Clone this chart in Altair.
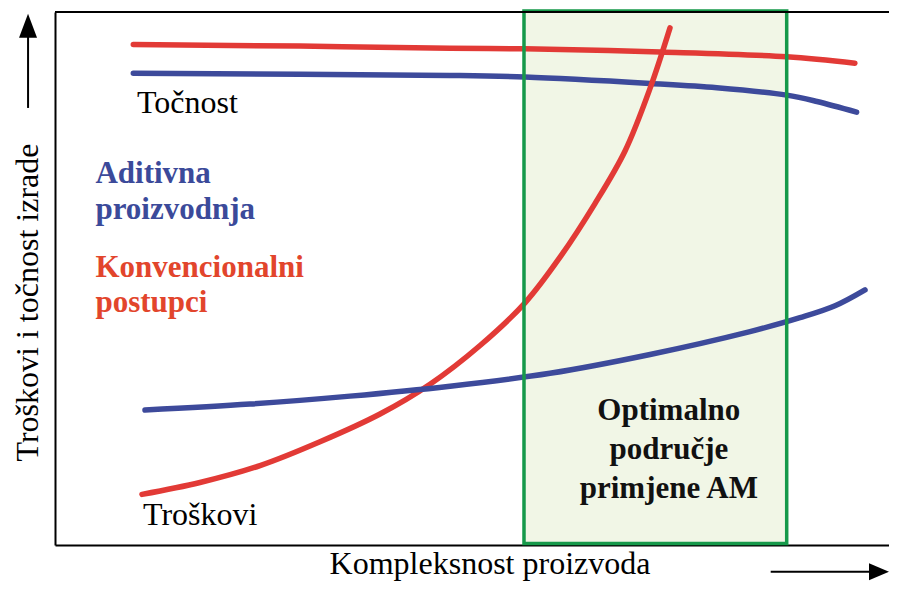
import altair as alt
import pandas as pd

# ---- data (x: product complexity, y: cost / accuracy, both 0-100) ----
am_acc_x = [9.3, 46.9, 55.8, 70.7, 78.6, 86.9, 90.5, 95.2]
am_acc_y = [88.5, 88.1, 87.8, 86.6, 85.8, 84.4, 83.2, 81.2]
conv_acc_x = [9.3, 29.1, 46.9, 55.8, 71.9, 86.9, 95.0]
conv_acc_y = [93.9, 93.6, 93.2, 93.1, 92.5, 91.6, 90.4]
conv_cost_x = [10.33, 17.22, 24.35, 31.47, 38.60, 44.54, 50.48, 55.82, 59.98, 64.13, 67.70, 70.67, 73.04]
conv_cost_y = [9.50, 11.73, 14.90, 19.37, 24.58, 30.17, 37.43, 45.44, 54.00, 64.06, 73.93, 85.66, 97.02]
am_cost_x = [10.69, 23.16, 35.04, 46.91, 58.79, 70.67, 82.54, 88.48, 92.64, 96.20]
am_cost_y = [25.33, 26.44, 27.93, 29.80, 32.22, 35.75, 40.04, 42.64, 44.88, 47.86]

series_names = ["am_acc", "conv_acc", "conv_cost", "am_cost"]
series_colors = ["#3d4a9b", "#e23a36", "#e23a36", "#3d4a9b"]

region_x = [55.7, 86.9]
region_y = [0.3, 100.2]

labels_normal = ["Točnost", "Troškovi"]
labels_normal_x = [9.74, 10.45]
labels_normal_y = [81.0, 3.7]

labels_side = ["Aditivna", "proizvodnja", "Konvencionalni", "postupci"]
labels_side_x = [4.8, 4.8, 4.8, 4.8]
labels_side_y = [68.0, 61.1, 50.3, 43.8]
labels_side_color = ["#3b4a9a", "#3b4a9a", "#e2452c", "#e2452c"]

labels_region = ["Optimalno", "područje", "primjene AM"]
labels_region_x = [72.9, 72.9, 72.9]
labels_region_y = [23.5, 16.2, 8.9]

x_title = "Kompleksnost proizvoda"
y_title = "Troškovi i točnost izrade"

FONT = "Liberation Serif, Times New Roman, serif"
FS = 32
FSB = 31

# ---- tables ----
rows = []
for name, xs_, ys_ in [("am_acc", am_acc_x, am_acc_y), ("conv_acc", conv_acc_x, conv_acc_y),
                       ("conv_cost", conv_cost_x, conv_cost_y), ("am_cost", am_cost_x, am_cost_y)]:
    for i, (a, b) in enumerate(zip(xs_, ys_)):
        rows.append({"series": name, "x": a, "y": b, "i": i})
curves = pd.DataFrame(rows)

region = pd.DataFrame({"x": [region_x[0]], "x2": [region_x[1]], "y": [region_y[0]], "y2": [region_y[1]]})
normal = pd.DataFrame({"x": labels_normal_x, "y": labels_normal_y, "t": labels_normal})
side = pd.DataFrame({"x": labels_side_x, "y": labels_side_y, "t": labels_side, "c": labels_side_color})
reg_txt = pd.DataFrame({"x": labels_region_x, "y": labels_region_y, "t": labels_region})
top = pd.DataFrame({"y": [100]})
y_arrow = pd.DataFrame({"x": [-3.2], "y": [82.0], "y2": [97.0], "yh": [97.4]})
x_arrow = pd.DataFrame({"x": [85.0], "x2": [96.8], "y": [-5.0], "xh": [97.86]})

xs = alt.Scale(domain=[0, 99.05], nice=False, zero=False)
ys = alt.Scale(domain=[0, 100], nice=False, zero=False)

x_axis = alt.Axis(title=x_title, labels=False, ticks=False, grid=False, domainColor="black",
                  domainWidth=2, titleFont=FONT, titleFontSize=FS, titleFontWeight="normal",
                  titleColor="black", titleX=434.5, titleY=28, titleBaseline="alphabetic",
                  titleAlign="center")
y_axis = alt.Axis(title=y_title, labels=False, ticks=False, grid=False, domainColor="black",
                  domainWidth=2, titleFont=FONT, titleFontSize=FS, titleFontWeight="normal",
                  titleColor="black", titleX=-18, titleY=290, titleAngle=270,
                  titleBaseline="alphabetic", titleAlign="center")


def X(f):
    return alt.X(f, scale=xs, axis=x_axis)


def Y(f):
    return alt.Y(f, scale=ys, axis=y_axis)


fill = alt.Chart(region).mark_rect(fill="#f1f6e6", strokeWidth=0).encode(
    x=X("x:Q"), x2="x2:Q", y=Y("y:Q"), y2="y2:Q")

lines = alt.Chart(curves).mark_line(strokeWidth=5.5, strokeCap="round", interpolate="catmull-rom").encode(
    x=X("x:Q"), y=Y("y:Q"),
    color=alt.Color("series:N", scale=alt.Scale(domain=series_names, range=series_colors), legend=None),
    order="i:Q")

border = alt.Chart(region).mark_rect(fillOpacity=0, stroke="#16994a", strokeWidth=3.5).encode(
    x=X("x:Q"), x2="x2:Q", y=Y("y:Q"), y2="y2:Q")

top_line = alt.Chart(top).mark_rule(color="black", strokeWidth=2).encode(y=Y("y:Q"))

t_normal = alt.Chart(normal).mark_text(font=FONT, fontSize=FS, align="left", baseline="alphabetic",
                                       color="black").encode(x=X("x:Q"), y=Y("y:Q"), text="t:N")

t_side = alt.Chart(side).mark_text(font=FONT, fontSize=FSB, fontWeight="bold", align="left",
                                   baseline="alphabetic").encode(
    x=X("x:Q"), y=Y("y:Q"), text="t:N", color=alt.Color("c:N", scale=None))

t_region = alt.Chart(reg_txt).mark_text(font=FONT, fontSize=FSB, fontWeight="bold", align="center",
                                        baseline="alphabetic", color="#111111").encode(
    x=X("x:Q"), y=Y("y:Q"), text="t:N")

ya_shaft = alt.Chart(y_arrow).mark_rule(color="black", strokeWidth=2).encode(
    x=X("x:Q"), y=Y("y:Q"), y2="y2:Q")
ya_head = alt.Chart(y_arrow).mark_point(shape="M0,-1L0.75,1L-0.75,1Z", size=576, filled=True,
                                        color="black", opacity=1).encode(x=X("x:Q"), y=Y("yh:Q"))

xa_shaft = alt.Chart(x_arrow).mark_rule(color="black", strokeWidth=2).encode(
    x=X("x:Q"), x2="x2:Q", y=Y("y:Q"))
xa_head = alt.Chart(x_arrow).mark_point(shape="M1,0L-1,0.85L-1,-0.85Z", size=400, filled=True,
                                        color="black", opacity=1).encode(x=X("xh:Q"), y=Y("y:Q"))

chart = alt.layer(fill, lines, border, top_line, t_normal, t_side, t_region,
                  ya_shaft, ya_head, xa_shaft, xa_head).properties(
    width=834, height=533,
    autosize=alt.AutoSizeParams(type="none"),
    padding={"left": 47, "top": 4, "right": 0, "bottom": 37},
    background="white",
).configure_view(strokeWidth=0)

chart.save("out.html", embed_options={"renderer": "svg", "actions": False})
